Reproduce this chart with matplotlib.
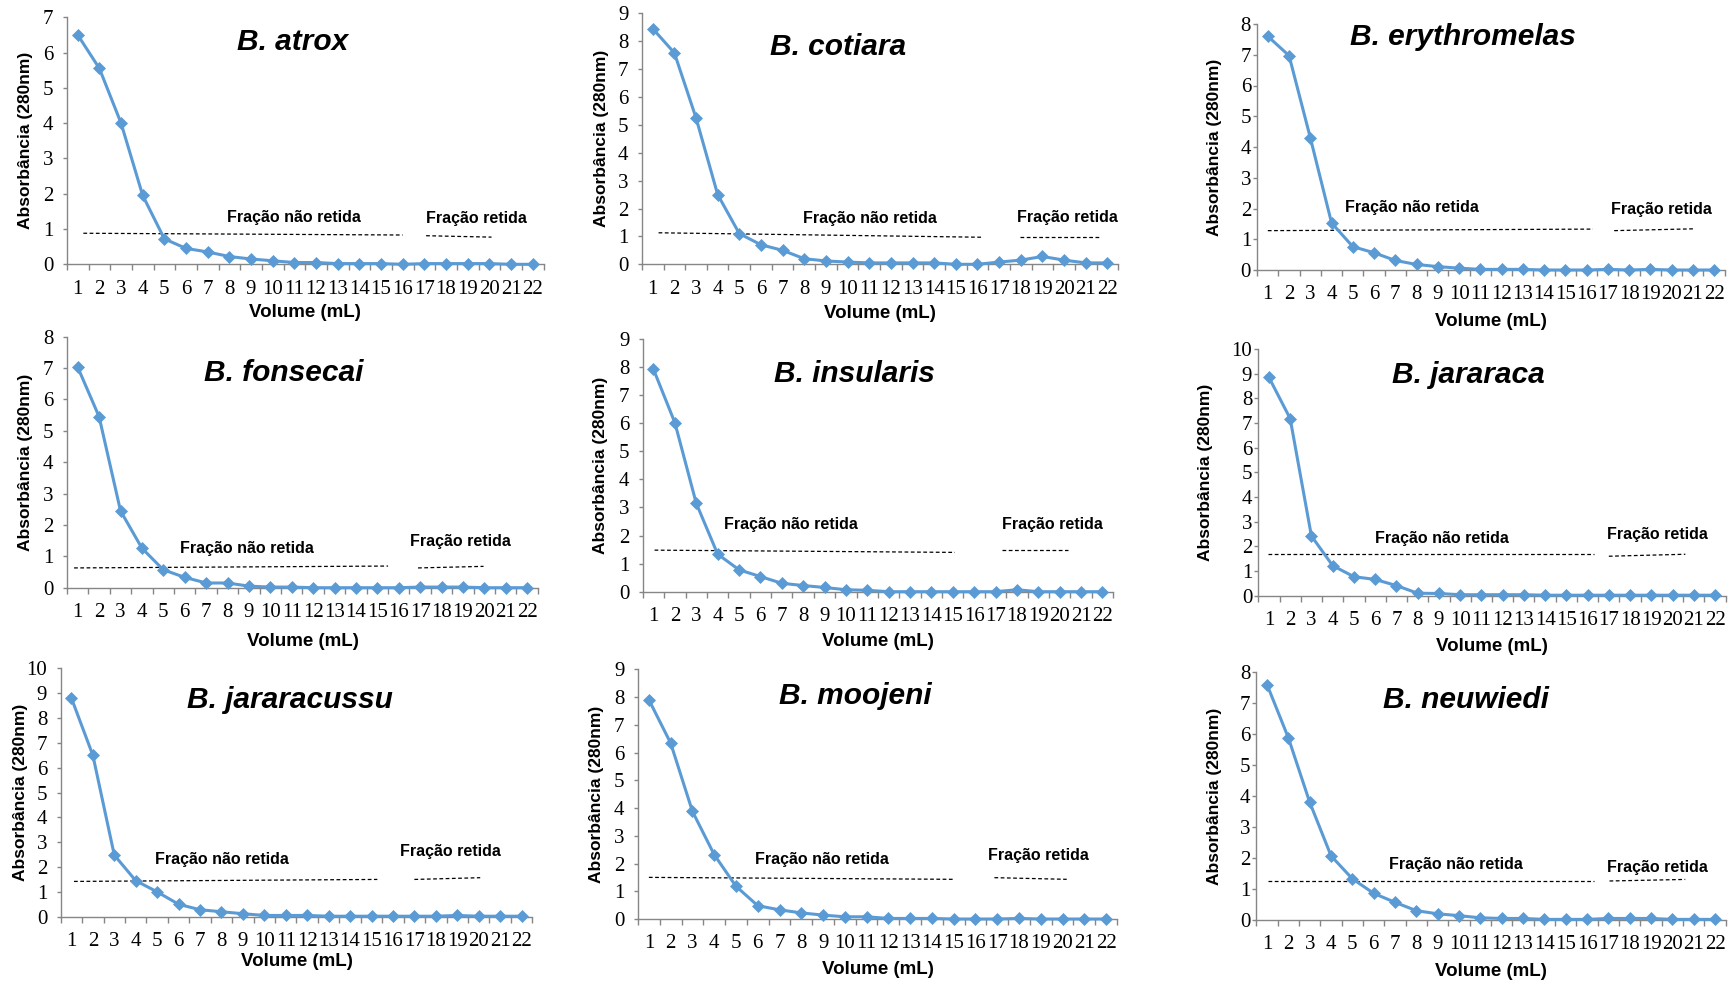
import matplotlib
matplotlib.use("Agg")
import matplotlib.pyplot as plt

# ---------------- DATA ----------------
volume_ml = list(range(1, 23))
volume_labels = [str(v) for v in volume_ml]

species = ["B. atrox", "B. cotiara", "B. erythromelas",
           "B. fonsecai", "B. insularis", "B. jararaca",
           "B. jararacussu", "B. moojeni", "B. neuwiedi"]

atrox = [6.5, 5.55, 4.0, 1.95, 0.72, 0.45, 0.35, 0.22, 0.15, 0.1, 0.05,
         0.05, 0.02, 0.02, 0.02, 0.0, 0.02, 0.02, 0.02, 0.02, 0.0, 0.0]
cotiara = [8.45, 7.58, 5.25, 2.5, 1.1, 0.7, 0.5, 0.2, 0.12, 0.08, 0.05,
           0.05, 0.05, 0.05, 0.0, 0.0, 0.08, 0.15, 0.28, 0.15, 0.05, 0.05]
erythromelas = [7.6, 6.97, 4.3, 1.53, 0.76, 0.56, 0.31, 0.18, 0.11, 0.06, 0.02,
                0.02, 0.02, 0.0, 0.0, 0.0, 0.02, 0.0, 0.02, 0.0, 0.0, 0.0]
fonsecai = [7.03, 5.45, 2.45, 1.26, 0.57, 0.33, 0.15, 0.15, 0.05, 0.02, 0.02,
            0.0, 0.0, 0.0, 0.0, 0.0, 0.02, 0.02, 0.02, 0.0, 0.0, 0.0]
insularis = [7.92, 6.02, 3.15, 1.34, 0.78, 0.54, 0.3, 0.22, 0.15, 0.07, 0.05,
             0.0, 0.0, 0.0, 0.0, 0.0, 0.0, 0.07, 0.0, 0.0, 0.0, 0.0]
jararaca = [8.85, 7.18, 2.42, 1.22, 0.77, 0.66, 0.41, 0.1, 0.09, 0.04, 0.04,
            0.04, 0.04, 0.02, 0.02, 0.02, 0.02, 0.02, 0.02, 0.02, 0.02, 0.02]
jararacussu = [8.8, 6.5, 2.48, 1.45, 1.0, 0.5, 0.28, 0.2, 0.12, 0.05, 0.05,
               0.05, 0.02, 0.02, 0.02, 0.02, 0.02, 0.02, 0.05, 0.02, 0.02, 0.02]
moojeni = [7.9, 6.34, 3.88, 2.32, 1.18, 0.48, 0.33, 0.22, 0.14, 0.08, 0.08,
           0.02, 0.02, 0.02, 0.0, 0.0, 0.0, 0.02, 0.0, 0.0, 0.0, 0.0]
neuwiedi = [7.6, 5.88, 3.8, 2.07, 1.33, 0.86, 0.57, 0.3, 0.2, 0.14, 0.07,
            0.05, 0.05, 0.02, 0.02, 0.02, 0.05, 0.05, 0.05, 0.02, 0.02, 0.02]

series = [atrox, cotiara, erythromelas, fonsecai, insularis,
          jararaca, jararacussu, moojeni, neuwiedi]
y_max = [7, 9, 8, 8, 9, 10, 10, 9, 8]

ylabel_text = "Absorbância (280nm)"
xlabel_text = "Volume (mL)"
label_nao_retida = "Fração não retida"
label_retida = "Fração retida"

# ---------------- LAYOUT (pixels in a 1731x984 canvas) ----------------
W, H = 1731, 984
# left, right, top, bottom of each plot area
boxes = [
    (66.9, 543.5, 17.3, 264.3), (641.9, 1118.2, 13.3, 264.3), (1257.2, 1724.7, 24.0, 270.0),
    (67.0, 537.9, 336.7, 587.7), (642.8, 1113.1, 339.0, 591.7), (1258.3, 1725.7, 349.0, 595.7),
    (60.7, 532.3, 668.3, 916.7), (638.0, 1117.0, 669.3, 919.0), (1256.4, 1725.8, 672.3, 920.0),
]
ylabel_x = [26, 602, 1215, 26, 601, 1206, 20.4, 597, 1215]
xlabel_y = [312.7, 313.3, 321.7, 641.7, 641.7, 646.7, 961.7, 970.0, 971.0]
ytick_pad = [6.5, 6.5, 1.2, 6.5, 6.5, 1.2, 6.5, 6.5, 1.2]
title_pos = [(10.94, 6.31), (9.57, 7.8), (10.17, 7.57), (10.62, 6.83), (10.38, 7.74),
             (10.37, 8.95), (11.2, 8.72), (10.5, 8.04), (10.3, 7.1)]
text_nr_pos = [(10.99, 1.33), (11.03, 1.65), (7.76, 2.04), (8.9, 1.25), (7.44, 2.41),
               (9.13, 2.32), (8.02, 2.32), (8.95, 2.16), (9.85, 1.78)]
text_r_pos = [(19.4, 1.3), (20.17, 1.68), (19.5, 1.97), (18.9, 1.46), (19.67, 2.41),
              (19.3, 2.5), (18.7, 2.64), (18.9, 2.3), (19.3, 1.7)]
dash_nr = [((1.26, 16.0), (0.88, 0.83)), ((1.27, 16.2), (1.13, 0.97)), ((1.0, 16.3), (1.28, 1.33)),
           ((0.83, 15.5), (0.63, 0.69)), ((1.05, 15.1), (1.48, 1.40)), ((0.95, 16.3), (1.68, 1.68)),
           ((1.12, 15.27), (1.42, 1.5)), ((1.0, 15.06), (1.5, 1.43)), ((1.03, 16.3), (1.26, 1.26))]
dash_r = [((17.08, 20.1), (0.81, 0.77)), ((17.96, 21.6), (0.97, 0.97)), ((17.3, 21.1), (1.28, 1.34)),
          ((16.9, 19.96), (0.63, 0.68)), ((17.3, 20.4), (1.48, 1.48)), ((17.0, 20.6), (1.6, 1.68)),
          ((17.0, 20.07), (1.5, 1.57)), ((16.87, 20.19), (1.49, 1.43)), ((17.05, 20.6), (1.26, 1.31))]

LINE_COLOR = "#5B9BD5"
AXIS_COLOR = "#868686"
SANS = "Liberation Sans"
SERIF = "Liberation Serif"

fig = plt.figure(figsize=(W / 100, H / 100), dpi=100)
fig.patch.set_facecolor("white")

for i in range(9):
    l, r, t, b = boxes[i]
    ax = fig.add_axes([l / W, 1 - b / H, (r - l) / W, (b - t) / H])
    ax.set_facecolor("none")
    ax.plot(volume_ml, series[i], color=LINE_COLOR, lw=2.2, marker="D", ms=6.5,
            mec=LINE_COLOR, mfc=LINE_COLOR, mew=0.5, clip_on=False, zorder=3)
    ax.set_xlim(0.5, 22.5)
    ax.set_ylim(0, y_max[i])
    ax.set_yticks(range(0, y_max[i] + 1))
    ax.set_xticks(volume_ml)
    ax.set_xticklabels(volume_labels)
    ax.set_xticks([v + 0.5 for v in range(0, 23)], minor=True)
    for s in ("top", "right"):
        ax.spines[s].set_visible(False)
    for s in ("left", "bottom"):
        ax.spines[s].set_color(AXIS_COLOR)
        ax.spines[s].set_linewidth(1.0)
    ax.tick_params(axis="x", which="major", length=0, pad=11.0,
                   labelsize=15, labelfontfamily=SERIF)
    ax.tick_params(axis="x", which="minor", length=4.5, width=1.0, color=AXIS_COLOR,
                   direction="out")
    ax.tick_params(axis="y", which="major", length=3.2, width=1.0, color=AXIS_COLOR,
                   direction="out", pad=ytick_pad[i], labelsize=15, labelfontfamily=SERIF)

    # title
    ax.text(title_pos[i][0], title_pos[i][1], species[i], ha="center", va="center",
            fontsize=21.5, fontweight="bold", fontstyle="italic", family=SANS)
    # annotations
    ax.text(text_nr_pos[i][0], text_nr_pos[i][1], label_nao_retida, ha="center",
            va="center", fontsize=11.5, fontweight="bold", family=SANS)
    ax.text(text_r_pos[i][0], text_r_pos[i][1], label_retida, ha="center",
            va="center", fontsize=11.5, fontweight="bold", family=SANS)
    ax.plot(dash_nr[i][0], dash_nr[i][1], color="black", lw=0.9,
            linestyle=(0, (3, 2)), zorder=2)
    ax.plot(dash_r[i][0], dash_r[i][1], color="black", lw=0.9,
            linestyle=(0, (3, 2)), zorder=2)

    # axis labels
    fig.text(ylabel_x[i] / W, 1 - ((t + b) / 2) / H, ylabel_text, rotation=90,
             ha="center", va="center", fontsize=12.5, fontweight="bold", family=SANS)
    fig.text(((l + r) / 2) / W, 1 - xlabel_y[i] / H, xlabel_text,
             ha="center", va="center", fontsize=13.5, fontweight="bold", family=SANS)

fig.savefig("out.png", dpi=100)
